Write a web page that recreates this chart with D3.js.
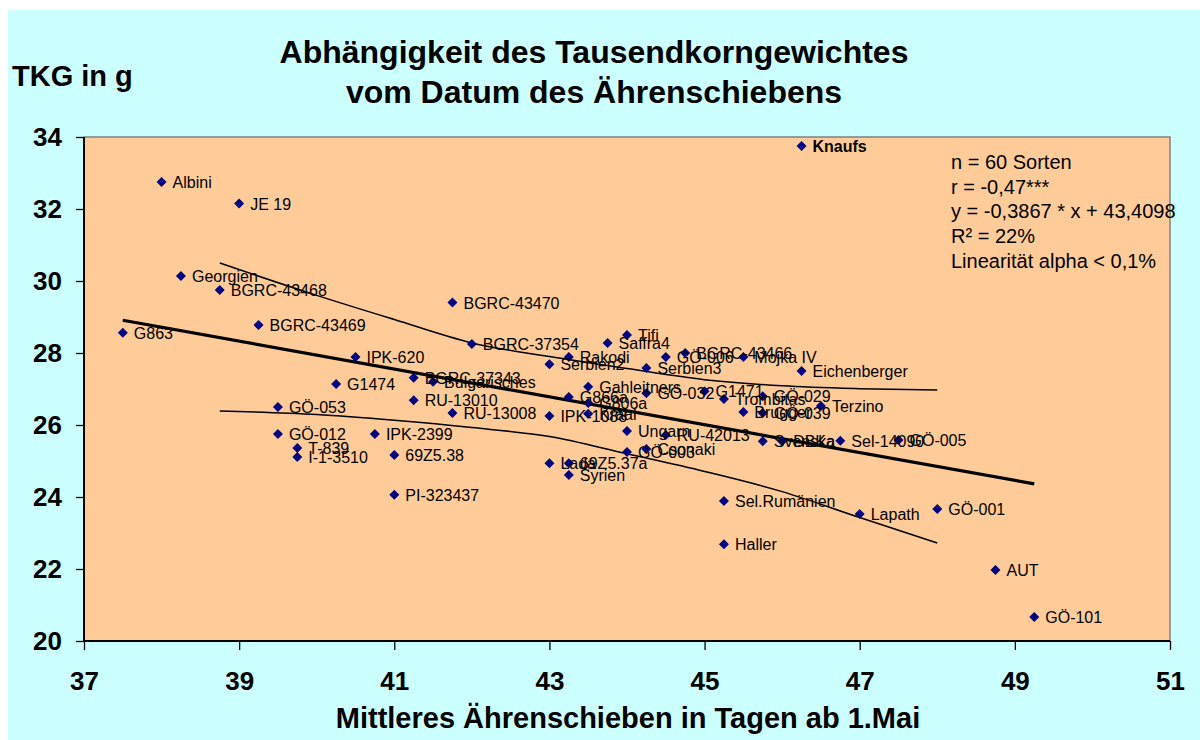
<!DOCTYPE html>
<html><head><meta charset="utf-8">
<script src="https://cdn.jsdelivr.net/npm/d3@7"></script>
<style>
html,body{margin:0;padding:0;background:#fff;}
svg{display:block;font-family:"Liberation Sans",Arial,sans-serif;}
</style></head>
<body><svg id="c" width="1200" height="740"></svg>
<script>
// ---- data ----
const names = ["Albini","JE 19","Georgien","BGRC-43468","BGRC-43469","G863","BGRC-43470","BGRC-37354","IPK-620","Rakodi",
"Serbien2","Tifi","Saffra4","GÖ-006","BGRC-43466","Mojka IV","Eichenberger","Serbien3","Gahleitners","G866a",
"G806a","GÖ-032","G1471","Trombitas","GÖ-029","Terzino","Brugger","GÖ-039","IPK-1088","Kraal",
"Ungarn","RU-42013","Svenska","DBKa","Sel-14090","GÖ-005","GÖ-003","Csonaki","Lada","69Z5.37a",
"Syrien","G1474","BGRC-37343","Bulgarisches","RU-13010","RU-13008","GÖ-053","GÖ-012","IPK-2399","T-839",
"I-1-3510","69Z5.38","PI-323437","Knaufs","Sel.Rumänien","Haller","Lapath","GÖ-001","AUT","GÖ-101"];
const heading = [38.0,39.0,38.25,38.75,39.25,37.5,41.75,42.0,40.5,43.25,
43.0,44.0,43.75,44.5,44.75,45.5,46.25,44.25,43.5,43.25,
43.5,44.25,45.0,45.25,45.75,46.5,45.5,45.75,43.0,43.5,
44.0,44.5,45.75,46.0,46.75,47.5,44.0,44.25,43.0,43.25,
43.25,40.25,41.25,41.5,41.25,41.75,39.5,39.5,40.75,39.75,
39.75,41.0,41.0,46.25,45.25,45.25,47.0,48.0,48.75,49.25];
const tkg = [32.75,32.15,30.14,29.75,28.78,28.56,29.4,28.25,27.89,27.89,
27.69,28.5,28.28,27.89,28.0,27.89,27.5,27.58,27.06,26.78,
26.61,26.88,26.94,26.72,26.8,26.53,26.36,26.33,26.25,26.31,
25.83,25.72,25.55,25.55,25.56,25.58,25.25,25.33,24.94,24.94,
24.61,27.14,27.31,27.2,26.69,26.33,26.5,25.75,25.75,25.36,
25.11,25.17,24.06,33.75,23.89,22.69,23.53,23.67,21.97,20.67];
const boldLabels = ["Knaufs"];
const slope = -0.3867, intercept = 43.4098;
const bandX = [38.75,40,41,42,43,44,45,46,47,48];
const bandUpper = [30.50,29.60,28.93,28.28,27.90,27.57,27.26,27.09,27.01,26.97];
const bandLower = [26.39,26.29,26.13,25.93,25.68,25.20,24.71,24.15,23.43,22.72];
const xTicks = [37,39,41,43,45,47,49,51];
const yTicks = [20,22,24,26,28,30,32,34];
const titleLines = ["Abhängigkeit des Tausendkorngewichtes","vom Datum des Ährenschiebens"];
const yTitle = "TKG in g";
const xTitle = "Mittleres Ährenschieben in Tagen ab 1.Mai";
const statLines = ["n = 60 Sorten","r = -0,47***","y = -0,3867 * x + 43,4098","R² = 22%","Linearität alpha < 0,1%"];

// ---- layout ----
const svg = d3.select("#c");
const L=84, R=1170, T=137, B=641;
const x = d3.scaleLinear().domain([37,51]).range([L,R]);
const y = d3.scaleLinear().domain([20,34]).range([B,T]);

svg.append("rect").attr("x",8).attr("y",10).attr("width",1192).attr("height",730).attr("fill","#CCFFFF");
svg.append("rect").attr("x",L).attr("y",T).attr("width",R-L).attr("height",B-T)
  .attr("fill","#FFCC99").attr("stroke","#808080").attr("stroke-width",1.5);

// axes
const xa = svg.append("g").attr("transform",`translate(0,${B})`)
  .call(d3.axisBottom(x).tickValues(xTicks).tickSize(9).tickPadding(22).tickFormat(d3.format("d")));
const ya = svg.append("g").attr("transform",`translate(${L},0)`)
  .call(d3.axisLeft(y).tickValues(yTicks).tickSize(8).tickPadding(14).tickFormat(d3.format("d")));
[xa,ya].forEach(a=>{
  a.select(".domain").attr("stroke","#000").attr("stroke-width",2);
  a.selectAll(".tick line").attr("stroke","#000").attr("stroke-width",1.3);
  a.selectAll("text").attr("font-family","Liberation Sans, Arial, sans-serif")
   .attr("font-size",26).attr("font-weight","bold").attr("fill","#000");
});
xa.selectAll(".domain").attr("d",`M${L},0H${R}`);
ya.selectAll(".domain").attr("d",`M0,${B}V${T}`);

// bands
const lineGen = d3.line().x(d=>x(d[0])).y(d=>y(d[1])).curve(d3.curveMonotoneX);
svg.append("path").attr("d",lineGen(bandX.map((v,i)=>[v,bandUpper[i]])))
  .attr("fill","none").attr("stroke","#000").attr("stroke-width",1.5);
svg.append("path").attr("d",lineGen(bandX.map((v,i)=>[v,bandLower[i]])))
  .attr("fill","none").attr("stroke","#000").attr("stroke-width",1.5);

// regression line
const [xmin,xmax] = d3.extent(heading);
svg.append("line").attr("x1",x(xmin)).attr("y1",y(slope*xmin+intercept))
  .attr("x2",x(xmax)).attr("y2",y(slope*xmax+intercept))
  .attr("stroke","#000").attr("stroke-width",3.2);

// points
const pts = names.map((n,i)=>({n,x:heading[i],y:tkg[i]}));
const diamond = d3.symbol().type(d3.symbolSquare).size(50);
svg.append("g").selectAll("path").data(pts).join("path")
  .attr("d",diamond).attr("fill","#000080")
  .attr("transform",d=>`translate(${x(d.x)},${y(d.y)}) rotate(45)`);
svg.append("g").selectAll("text").data(pts).join("text")
  .attr("x",d=>x(d.x)+11).attr("y",d=>y(d.y)+6)
  .attr("font-size",16).attr("fill","#000")
  .attr("font-weight",d=>boldLabels.includes(d.n)?"bold":"normal")
  .text(d=>d.n);

// titles
svg.append("g").selectAll("text").data(titleLines).join("text")
  .attr("x",594).attr("y",(d,i)=>63+i*40).attr("text-anchor","middle")
  .attr("font-size",32).attr("font-weight","bold").text(d=>d);
svg.append("text").attr("x",12).attr("y",86).attr("font-size",29).attr("font-weight","bold").text(yTitle);
svg.append("text").attr("x",628).attr("y",728).attr("text-anchor","middle")
  .attr("font-size",29).attr("font-weight","bold").text(xTitle);
svg.append("g").selectAll("text").data(statLines).join("text")
  .attr("x",951).attr("y",(d,i)=>169+i*24.7).attr("font-size",20).text(d=>d);
</script></body></html>
